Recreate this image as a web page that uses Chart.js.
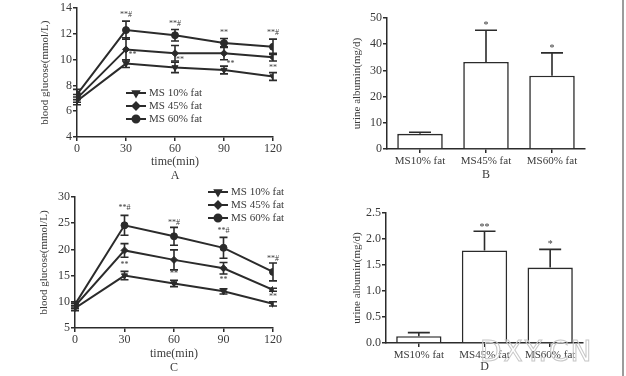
<!DOCTYPE html>
<html>
<head>
<meta charset="utf-8">
<script src="https://cdn.jsdelivr.net/npm/chart.js"></script>
<style>
  body { margin: 0; background: #fff; width: 626px; height: 376px; position: relative; overflow: hidden; }
  canvas { position: absolute; }
  #edge { position: absolute; left: 622px; top: 0; width: 2px; height: 376px; background: #9c9c9c; }
  #wm { position: absolute; left: 480px; top: 335px; font: 28px "DejaVu Sans"; color: transparent;
        -webkit-text-stroke: 1px #c8c8c8; letter-spacing: 2px; }
</style>
</head>
<body>
<canvas id="chartA" width="300" height="185" style="left:0;top:0"></canvas>
<canvas id="chartB" width="296" height="190" style="left:330px;top:0"></canvas>
<canvas id="chartC" width="300" height="191" style="left:0;top:185px"></canvas>
<canvas id="chartD" width="296" height="186" style="left:330px;top:190px"></canvas>
<div id="edge"></div>
<div id="wm">DXY.CN</div>
<script>
// --- data ---
const timePoints = [0, 30, 60, 90, 120];

// panel A
const aMS10 = [6.8, 9.7, 9.4, 9.2, 8.7];
const aMS10Err = [0.3, 0.3, 0.4, 0.3, 0.3];
const aMS45 = [7.0, 10.8, 10.5, 10.5, 10.2];
const aMS45Err = [0.3, 0.9, 0.6, 0.5, 0.3];
const aMS60 = [7.3, 12.3, 11.9, 11.3, 11.0];
const aMS60Err = [0.4, 0.7, 0.45, 0.35, 0.6];

// panel C
const cMS10 = [8.8, 15.0, 13.5, 12.0, 9.6];
const cMS10Err = [0.5, 0.8, 0.6, 0.5, 0.4];
const cMS45 = [9.2, 19.8, 18.0, 16.4, 12.3];
const cMS45Err = [0.5, 1.3, 1.9, 1.1, 0.3];
const cMS60 = [9.5, 24.6, 22.5, 20.3, 15.7];
const cMS60Err = [0.5, 1.9, 1.7, 2.0, 1.7];

// panels B, D
const groups = ['MS10% fat', 'MS45% fat', 'MS60% fat'];
const bAlbumin = [5.8, 33.2, 28.0];
const bAlbuminErr = [0.6, 12.1, 8.7];
const dAlbumin = [0.13, 1.78, 1.45];
const dAlbuminErr = [0.07, 0.37, 0.35];

// significance marks
const aStars = [
  { x: 30, y: 13.45, t: '**#' }, { x: 60, y: 12.8, t: '**#' }, { x: 90, y: 12.1, t: '**' }, { x: 120, y: 12.1, t: '**#' },
  { x: 34, y: 10.4, t: '**' }, { x: 63, y: 9.95, t: '**' }, { x: 94, y: 9.7, t: '**' }, { x: 120, y: 9.35, t: '**' }
];
const cStars = [
  { x: 30, y: 27.9, t: '**#' }, { x: 60, y: 25.0, t: '**#' }, { x: 90, y: 23.5, t: '**#' }, { x: 120, y: 18.2, t: '**#' },
  { x: 30, y: 17.0, t: '**' }, { x: 60, y: 15.3, t: '**' }, { x: 90, y: 14.2, t: '**' }, { x: 120, y: 10.9, t: '**' }
];
const bStars = [{ x: 1, y: 47.0, t: '*' }, { x: 2, y: 38.4, t: '*' }];
const dStars = [{ x: 1, y: 2.22, t: '**' }, { x: 2, y: 1.90, t: '*' }];

const INK = '#2b2b2b';
const TXT = '#3a3a3a';
const SERIF = '"Liberation Serif", "DejaVu Serif", serif';

// error bars drawn from the dataset's err array
const errorBars = {
  id: 'errorBars',
  afterDatasetsDraw(chart, args, opts) {
    const ctx = chart.ctx, ys = chart.scales.y;
    ctx.save();
    ctx.strokeStyle = INK;
    ctx.lineWidth = 1.6;
    chart.data.datasets.forEach((ds, i) => {
      if (!ds.err) return;
      chart.getDatasetMeta(i).data.forEach((el, j) => {
        const raw = ds.data[j];
        const v = typeof raw === 'number' ? raw : raw.y;
        const top = ys.getPixelForValue(v + ds.err[j]);
        const bot = opts.upOnly ? el.y : ys.getPixelForValue(v - ds.err[j]);
        const h = opts.cap / 2;
        ctx.beginPath();
        ctx.moveTo(el.x, top); ctx.lineTo(el.x, bot);
        ctx.moveTo(el.x - h, top); ctx.lineTo(el.x + h, top);
        if (!opts.upOnly) { ctx.moveTo(el.x - h, bot); ctx.lineTo(el.x + h, bot); }
        ctx.stroke();
      });
    });
    ctx.restore();
  }
};

const starMarks = {
  id: 'starMarks',
  afterDraw(chart, args, opts) {
    const ctx = chart.ctx, xs = chart.scales.x, ys = chart.scales.y;
    ctx.save();
    ctx.fillStyle = TXT;
    ctx.font = opts.size + 'px ' + SERIF;
    ctx.textAlign = 'center';
    ctx.textBaseline = 'middle';
    opts.marks.forEach(m => ctx.fillText(m.t, xs.getPixelForValue(m.x), ys.getPixelForValue(m.y)));
    ctx.restore();
  }
};

// legend: short line with the marker, then the label
const lineLegend = {
  id: 'lineLegend',
  afterDraw(chart, args, opts) {
    if (!opts.show) return;
    const ctx = chart.ctx;
    ctx.save();
    ctx.font = opts.size + 'px ' + SERIF;
    ctx.textBaseline = 'middle';
    chart.data.datasets.forEach((ds, i) => {
      const y = opts.y + i * opts.dy;
      ctx.strokeStyle = INK;
      ctx.fillStyle = INK;
      ctx.lineWidth = 2;
      ctx.beginPath(); ctx.moveTo(opts.x, y); ctx.lineTo(opts.x + opts.w, y); ctx.stroke();
      Chart.helpers.drawPoint(ctx, { pointStyle: ds.pointStyle, rotation: ds.pointRotation || 0, radius: ds.pointRadius, borderWidth: 1 }, opts.x + opts.w / 2, y);
      ctx.fillStyle = TXT;
      ctx.fillText(ds.label, opts.x + opts.w + 3, y);
    });
    ctx.restore();
  }
};

function lineSet(label, vals, err, style, rot) {
  return {
    label, err,
    data: timePoints.map((t, k) => ({ x: t, y: vals[k] })),
    borderColor: INK, backgroundColor: INK, borderWidth: 2,
    pointStyle: style, pointRotation: rot || 0, pointRadius: 3.5, pointBorderWidth: 1
  };
}

function tickStyle(size) {
  return { color: TXT, font: { family: SERIF, size } };
}

function lineChart(id, sets, yMin, yMax, yStep, letter, stars, legend, box) {
  new Chart(document.getElementById(id), {
    type: 'line',
    data: { datasets: sets },
    options: {
      responsive: false, animation: false, devicePixelRatio: 1,
      layout: { padding: box.pad },
      plugins: {
        legend: { display: false }, tooltip: { enabled: false },
        errorBars: { cap: 8 },
        starMarks: { size: 8, marks: stars },
        lineLegend: legend
      },
      scales: {
        x: {
          type: 'linear', min: 0, max: 120,
          ticks: { ...tickStyle(12), stepSize: 30, padding: 1, maxRotation: 0 },
          grid: { drawOnChartArea: false, color: INK, lineWidth: 1.5, tickLength: 4 },
          border: { color: INK, width: 1.5 },
          title: { display: true, text: ['time(min)', letter], color: TXT,
                   font: { family: SERIF, size: 12, lineHeight: 1.15 }, padding: { top: 0, bottom: box.xTitlePad } },
          afterFit: s => { s.height = box.xh; }
        },
        y: {
          min: yMin, max: yMax,
          ticks: { ...tickStyle(12), stepSize: yStep, padding: 1 },
          grid: { drawOnChartArea: false, color: INK, lineWidth: 1.5, tickLength: 4 },
          border: { color: INK, width: 1.5 },
          title: { display: true, text: 'blood glucose(mmol/L)', color: TXT,
                   font: { family: SERIF, size: 11 }, padding: { top: box.yTitlePad, bottom: 0 } },
          afterFit: s => { s.width = box.yw; }
        }
      }
    },
    plugins: [errorBars, starMarks, lineLegend]
  });
}

function barChart(id, vals, errs, yMax, yStep, digits, letter, stars, box) {
  new Chart(document.getElementById(id), {
    type: 'bar',
    data: {
      labels: groups,
      datasets: [{ data: vals, err: errs, backgroundColor: '#fff', borderColor: INK, borderWidth: 1.6,
                   barPercentage: 0.69, categoryPercentage: 1 }]
    },
    options: {
      responsive: false, animation: false, devicePixelRatio: 1,
      layout: { padding: box.pad },
      plugins: {
        legend: { display: false }, tooltip: { enabled: false },
        errorBars: { cap: 22, upOnly: true },
        starMarks: { size: 10, marks: stars }
      },
      scales: {
        x: {
          ticks: { ...tickStyle(11), padding: 2, maxRotation: 0 },
          grid: { drawOnChartArea: false, offset: false, color: INK, lineWidth: 1.5, tickLength: 4 },
          border: { color: INK, width: 1.5 },
          title: { display: true, text: letter, color: TXT,
                   font: { family: SERIF, size: 12 }, padding: { top: 0, bottom: box.xTitlePad } },
          afterFit: s => { s.height = box.xh; }
        },
        y: {
          min: 0, max: yMax,
          ticks: { ...tickStyle(12), stepSize: yStep, padding: 1, callback: v => v.toFixed(digits) },
          grid: { drawOnChartArea: false, color: INK, lineWidth: 1.5, tickLength: 4 },
          border: { color: INK, width: 1.5 },
          title: { display: true, text: 'urine albumin(mg/d)', color: TXT,
                   font: { family: SERIF, size: 11 }, padding: { top: box.yTitlePad, bottom: 0 } },
          afterFit: s => { s.width = box.yw; }
        }
      }
    },
    plugins: [errorBars, starMarks]
  });
}

lineChart('chartA',
  [lineSet('MS 10% fat', aMS10, aMS10Err, 'triangle', 180),
   lineSet('MS 45% fat', aMS45, aMS45Err, 'rectRot'),
   lineSet('MS 60% fat', aMS60, aMS60Err, 'circle')],
  4, 14, 2, 'A', aStars,
  { show: true, x: 126, w: 20, y: 93, dy: 13, size: 11 },
  { pad: { left: 0, top: 8, right: 27, bottom: 0 }, yw: 77, xh: 48, xTitlePad: 2, yTitlePad: 39 });

lineChart('chartC',
  [lineSet('MS 10% fat', cMS10, cMS10Err, 'triangle', 180),
   lineSet('MS 45% fat', cMS45, cMS45Err, 'rectRot'),
   lineSet('MS 60% fat', cMS60, cMS60Err, 'circle')],
  5, 30, 5, 'C', cStars,
  { show: true, x: 208, w: 20, y: 7, dy: 13, size: 11 },
  { pad: { left: 0, top: 12, right: 27, bottom: 0 }, yw: 75, xh: 48, xTitlePad: 1, yTitlePad: 38 });

barChart('chartB', bAlbumin, bAlbuminErr, 50, 10, 0, 'B', bStars,
  { pad: { left: 0, top: 18, right: 41, bottom: 0 }, yw: 57, xh: 41, xTitlePad: 8, yTitlePad: 21 });

barChart('chartD', dAlbumin, dAlbuminErr, 2.5, 0.5, 1, 'D', dStars,
  { pad: { left: 0, top: 23, right: 43, bottom: 0 }, yw: 56, xh: 33, xTitlePad: 2, yTitlePad: 21 });
</script>
</body>
</html>
